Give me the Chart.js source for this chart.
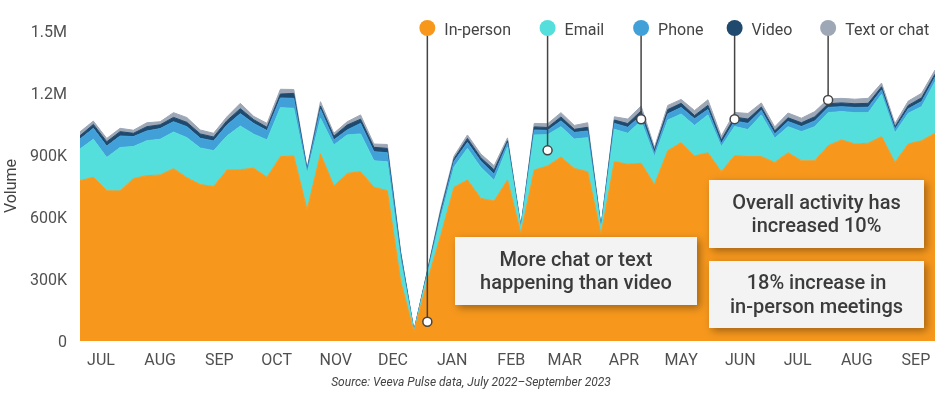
<!DOCTYPE html>
<html>
<head>
<meta charset="utf-8">
<script src="https://cdn.jsdelivr.net/npm/chart.js@4.4.0/dist/chart.umd.min.js"></script>
<style>
html, body { margin: 0; padding: 0; background: #fff; }
</style>
</head>
<body>
<canvas id="chart" width="941" height="398"></canvas>
<script>
// weekly volumes, thousands of interactions, week of 4 Jul 2022 .. week of 25 Sep 2023
const inPerson = [776,792,727,726,786,800,803,834,790,757,747,827,829,836,792,892,895,634,905,750,811,819,744,727,290,42,290,510,744,779,690,677,779,520,827,847,890,835,819,515,868,855,860,757,921,960,895,911,819,897,892,892,864,911,872,872,945,973,953,957,989,864,953,969,1005];
const email = [153,184,161,210,155,169,173,177,194,177,174,165,211,165,181,237,231,176,173,198,186,183,128,140,100,4,30,85,98,153,150,100,160,22,170,151,147,142,165,25,156,150,205,135,148,138,148,183,121,141,131,202,117,126,141,165,160,137,152,148,205,143,149,165,250];
const phone = [48,53,55,56,48,47,52,50,53,47,47,53,60,52,45,47,48,14,43,25,24,51,44,44,25,2,10,20,28,29,30,30,18,6,24,21,28,32,32,8,29,29,26,18,30,32,32,26,16,26,30,22,21,25,25,28,25,24,25,26,21,17,22,25,21];
const video = [16,19,21,21,16,21,18,21,21,21,19,21,24,18,16,19,24,6,16,18,24,20,21,21,10,1,5,12,12,19,17,21,12,3,15,14,19,15,18,3,16,18,22,13,21,20,16,20,16,19,21,16,15,18,18,20,18,18,18,19,15,12,16,18,15];
const textChat = [19,16,16,16,15,19,15,23,23,19,18,19,26,16,19,23,19,6,21,14,16,21,16,19,9,1,5,13,13,17,18,20,14,3,17,18,21,19,22,3,16,22,24,14,20,19,24,27,19,23,27,20,19,23,22,25,23,22,22,24,18,16,21,22,20];

const seriesNames = ['In-person', 'Email', 'Phone', 'Video', 'Text or chat'];
const seriesColors = ['#F7981D', '#54DEDC', '#42A0D9', '#1F4A6E', '#9DA7B6'];
const series = [inPerson, email, phone, video, textChat];

const monthLabels = ['JUL','AUG','SEP','OCT','NOV','DEC','JAN','FEB','MAR','APR','MAY','JUN','JUL','AUG','SEP'];
const yTickLabels = ['0', '300K', '600K', '900K', '1.2M', '1.5M'];

// which week each legend entry points at, and where inside its band
const calloutWeek = [26, 35, 42, 49, 56];
const calloutFrac = [0.32, 0.5, 0.3, 0.5, 0.8];

const notes = [
  { lines: ['More chat or text', 'happening than video'], box: [455, 237, 242, 68] },
  { lines: ['Overall activity has', 'increased 10%'], box: [709, 180, 215, 68] },
  { lines: ['18% increase in', 'in-person meetings'], box: [709, 261, 215, 67] }
];
const sourceText = 'Source: Veeva Pulse data, July 2022\u2013September 2023';

const firstWeek = new Date(2022, 6, 4);
const weekMs = 7 * 24 * 3600 * 1000;
const monthTicks = monthLabels.map((m, k) => (new Date(2022, 6 + k, 15) - firstWeek) / weekMs);

const datasets = series.map((s, k) => ({
  label: seriesNames[k],
  data: s.map((v, i) => ({ x: i, y: v })),
  backgroundColor: seriesColors[k],
  borderColor: seriesColors[k],
  borderWidth: 1,
  pointRadius: 0,
  tension: 0,
  fill: k === 0 ? 'origin' : '-1'
}));

const overlay = {
  id: 'overlay',
  afterDraw(chart) {
    const ctx = chart.ctx;
    const xs = chart.scales.x, ys = chart.scales.y;
    ctx.save();

    // legend with leader lines
    seriesNames.forEach((name, k) => {
      const i = calloutWeek[k];
      let below = 0;
      for (let j = 0; j < k; j++) below += series[j][i];
      const px = xs.getPixelForValue(i);
      const py = ys.getPixelForValue(below + series[k][i] * calloutFrac[k]);
      ctx.strokeStyle = '#444';
      ctx.lineWidth = 1.5;
      ctx.beginPath();
      ctx.moveTo(px, 28);
      ctx.lineTo(px, py);
      ctx.stroke();
      ctx.beginPath();
      ctx.arc(px, py, 4.5, 0, Math.PI * 2);
      ctx.fillStyle = '#fff';
      ctx.fill();
      ctx.stroke();
      ctx.beginPath();
      ctx.arc(px, 28, 8, 0, Math.PI * 2);
      ctx.fillStyle = seriesColors[k];
      ctx.fill();
      ctx.fillStyle = '#444';
      ctx.font = '16px Roboto';
      ctx.textAlign = 'left';
      ctx.textBaseline = 'middle';
      ctx.fillText(name, px + 17, 30.5);
    });

    // note boxes
    notes.forEach(n => {
      const [bx, by, bw, bh] = n.box;
      ctx.save();
      ctx.shadowColor = 'rgba(0,0,0,0.35)';
      ctx.shadowBlur = 8;
      ctx.shadowOffsetX = 3;
      ctx.shadowOffsetY = 3;
      ctx.fillStyle = '#F3F3F3';
      ctx.fillRect(bx, by, bw, bh);
      ctx.restore();
      ctx.fillStyle = '#3B3B3B';
      ctx.font = '500 20px Roboto';
      ctx.textAlign = 'center';
      ctx.textBaseline = 'middle';
      const cy = by + bh / 2;
      ctx.fillText(n.lines[0], bx + bw / 2, cy - 10.5);
      ctx.fillText(n.lines[1], bx + bw / 2, cy + 13);
    });

    ctx.fillStyle = '#444';
    ctx.font = 'italic 12px Roboto';
    ctx.textAlign = 'center';
    ctx.textBaseline = 'middle';
    ctx.fillText(sourceText, 471, 383);
    ctx.restore();
  }
};

new Chart(document.getElementById('chart'), {
  type: 'line',
  data: { datasets },
  plugins: [overlay],
  options: {
    responsive: false,
    devicePixelRatio: 1,
    animation: false,
    layout: { padding: { top: 31, right: 6, left: 0, bottom: 0 } },
    plugins: { legend: { display: false }, tooltip: { enabled: false } },
    scales: {
      x: {
        type: 'linear',
        min: 0,
        max: inPerson.length - 1,
        grid: { display: false, drawTicks: false },
        border: { display: false },
        afterFit: s => { s.height = 57; },
        afterBuildTicks: s => { s.ticks = monthTicks.map(v => ({ value: v })); },
        ticks: {
          autoSkip: false,
          maxRotation: 0,
          padding: 10,
          color: '#505050',
          font: { family: 'Roboto', size: 16 },
          callback: (v, i) => monthLabels[i]
        }
      },
      y: {
        stacked: true,
        min: 0,
        max: 1500,
        grid: { display: false, drawTicks: false },
        border: { display: false },
        afterFit: s => { s.width = 80; },
        title: {
          display: true,
          text: 'Volume',
          color: '#444',
          padding: { top: 2, bottom: 0 },
          font: { family: 'Roboto', size: 16 }
        },
        ticks: {
          stepSize: 300,
          padding: 13,
          labelOffset: 2,
          color: '#505050',
          font: { family: 'Roboto', size: 16 },
          callback: (v, i) => yTickLabels[i]
        }
      }
    }
  }
});
</script>
</body>
</html>
